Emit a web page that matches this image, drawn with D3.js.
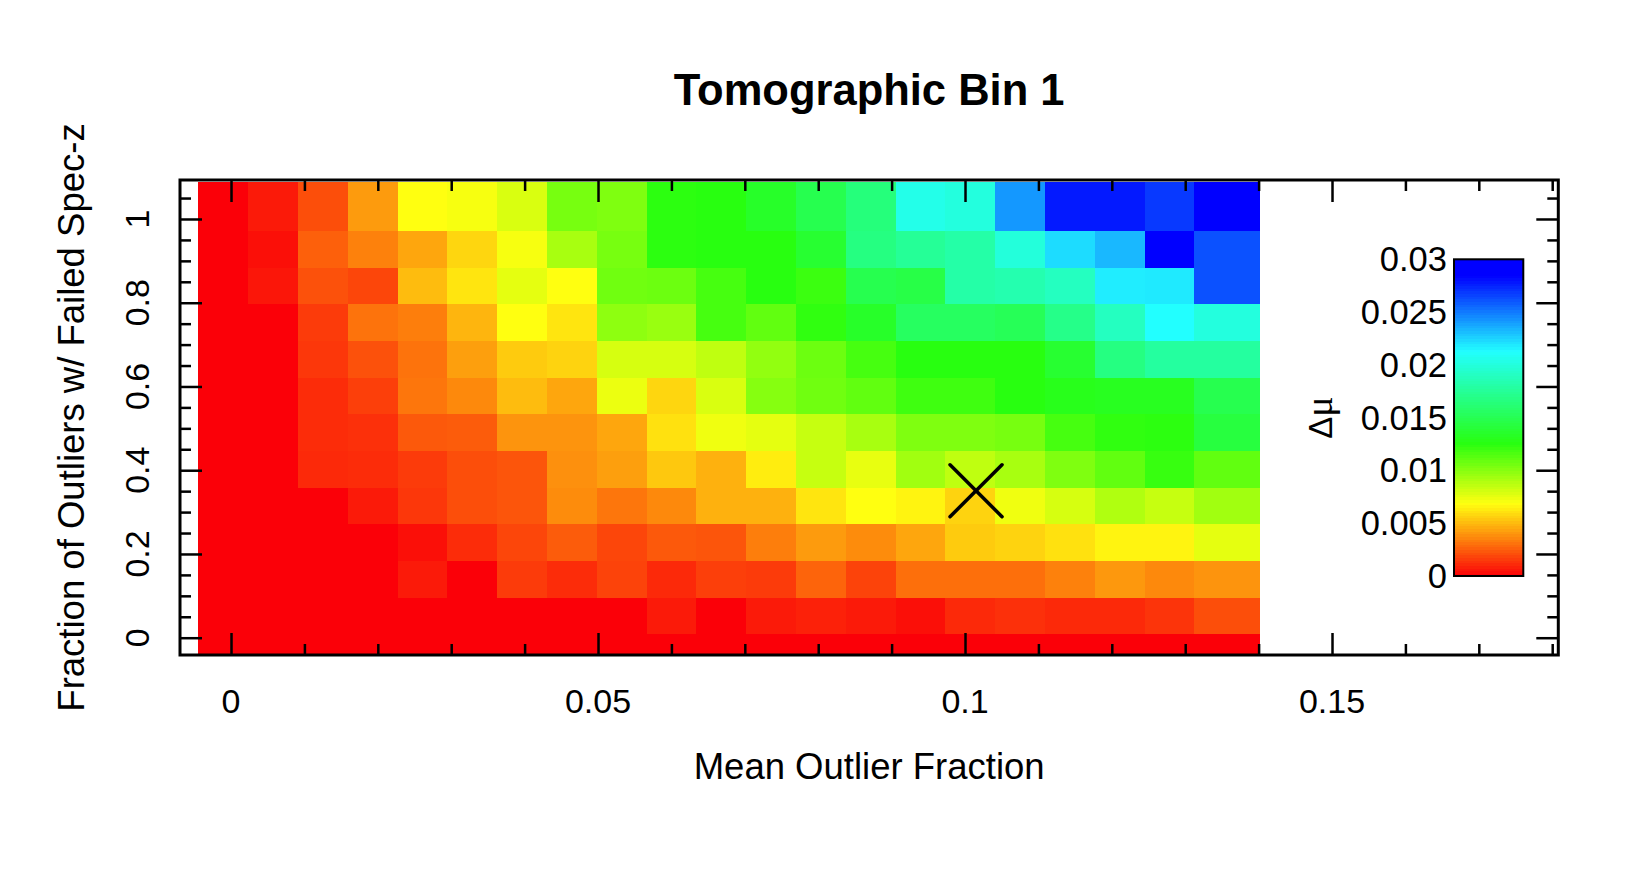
<!DOCTYPE html>
<html lang="en">
<head>
  <meta charset="utf-8">
  <title>Tomographic Bin 1</title>
  <script src="https://cdn.jsdelivr.net/npm/d3@7"></script>
  <style>
    body { margin: 0; background: #fff; }
    text { font-family: "Liberation Sans", Arial, Helvetica, sans-serif; fill: #000; }
  </style>
</head>
<body>
<script>
  // bin edges (data units)
  const xEdges = [-0.00445, 0.00234, 0.00912, 0.01591, 0.02269, 0.02948, 0.03626, 0.04305,
    0.04983, 0.05662, 0.06340, 0.07019, 0.07697, 0.08376, 0.09054, 0.09733, 0.10411,
    0.11090, 0.11768, 0.12447, 0.13125, 0.14019];
  const yEdges = [-0.0413, 0.0081, 0.0957, 0.1833, 0.2709, 0.3584, 0.4460, 0.5336,
    0.6212, 0.7088, 0.7963, 0.8839, 0.9715, 1.089];

  // delta mu per cell, one row per y bin, lowest row first
  const deltaMu = [
    [0, 0, 0, 0, 0, 0, 0, 0, 0, 0, 0, 0, 0, 0, 0, 0, 0, 0, 0, 0, 0],
    [0, 0, 0, 0, 0, 0, 0, 0, 0, 0.0007, 0, 0.0007, 0.0009, 0.0007, 0.0004, 0.0011, 0.0013, 0.0011, 0.0011, 0.0014, 0.0021],
    [0, 0, 0, 0, 0.0007, 0, 0.0016, 0.0012, 0.0018, 0.0011, 0.0017, 0.0016, 0.0027, 0.0018, 0.0030, 0.0030, 0.0030, 0.0035, 0.0041, 0.0037, 0.0040],
    [0, 0, 0, 0, 0.0004, 0.0012, 0.0019, 0.0025, 0.0019, 0.0024, 0.0023, 0.0034, 0.0042, 0.0038, 0.0045, 0.0055, 0.0057, 0.0061, 0.0066, 0.0066, 0.0076],
    [0, 0, 0, 0.0007, 0.0015, 0.0021, 0.0023, 0.0038, 0.0032, 0.0037, 0.0048, 0.0048, 0.0062, 0.0069, 0.0066, 0.0057, 0.0073, 0.0080, 0.0090, 0.0084, 0.0094],
    [0, 0, 0.0011, 0.0012, 0.0016, 0.0021, 0.0023, 0.0039, 0.0043, 0.0054, 0.0048, 0.0064, 0.0084, 0.0075, 0.0094, 0.0086, 0.0092, 0.0103, 0.0111, 0.0122, 0.0111],
    [0, 0, 0.0012, 0.0013, 0.0024, 0.0025, 0.0040, 0.0040, 0.0045, 0.0061, 0.0073, 0.0076, 0.0084, 0.0092, 0.0103, 0.0103, 0.0105, 0.0118, 0.0124, 0.0125, 0.0143],
    [0, 0, 0.0012, 0.0017, 0.0032, 0.0037, 0.0051, 0.0045, 0.0074, 0.0058, 0.0079, 0.0101, 0.0107, 0.0111, 0.0120, 0.0120, 0.0126, 0.0130, 0.0132, 0.0132, 0.0149],
    [0, 0, 0.0015, 0.0022, 0.0031, 0.0043, 0.0055, 0.0057, 0.0080, 0.0080, 0.0086, 0.0098, 0.0108, 0.0118, 0.0126, 0.0126, 0.0126, 0.0138, 0.0167, 0.0178, 0.0178],
    [0, 0, 0.0016, 0.0031, 0.0034, 0.0049, 0.0069, 0.0062, 0.0099, 0.0096, 0.0118, 0.0111, 0.0124, 0.0135, 0.0155, 0.0155, 0.0152, 0.0170, 0.0190, 0.0213, 0.0201],
    [0, 0.0006, 0.0022, 0.0019, 0.0051, 0.0062, 0.0076, 0.0069, 0.0107, 0.0108, 0.0118, 0.0126, 0.0121, 0.0149, 0.0146, 0.0181, 0.0184, 0.0190, 0.0218, 0.0219, 0.0262],
    [0, 0.0004, 0.0026, 0.0035, 0.0045, 0.0058, 0.0071, 0.0092, 0.0105, 0.0125, 0.0126, 0.0126, 0.0138, 0.0167, 0.0175, 0.0181, 0.0200, 0.0223, 0.0233, 0.0290, 0.0262],
    [0, 0.0007, 0.0021, 0.0042, 0.0069, 0.0071, 0.0079, 0.0105, 0.0103, 0.0125, 0.0126, 0.0135, 0.0149, 0.0165, 0.0205, 0.0201, 0.0242, 0.0278, 0.0278, 0.0269, 0.0290]
  ];

  const xTicks = [0, 0.05, 0.1, 0.15];
  const xTickLabels = ["0", "0.05", "0.1", "0.15"];
  const yTicks = [0, 0.2, 0.4, 0.6, 0.8, 1];
  const yTickLabels = ["0", "0.2", "0.4", "0.6", "0.8", "1"];
  const zTicks = [0, 0.005, 0.01, 0.015, 0.02, 0.025, 0.03];
  const zTickLabels = ["0", "0.005", "0.01", "0.015", "0.02", "0.025", "0.03"];

  // the cross marks the fiducial point
  const marker = [0.1015, 0.351];

  // palette: position along the colour bar -> colour
  const paletteStops = [0, 0.23, 0.42, 0.71, 0.95, 1];
  const paletteColors = ["#fb0008", "#ffff10", "#28ff10", "#22ffff", "#0000ff", "#0000ff"];

  const W = 1650, H = 880;
  const plotLeft = 180, plotRight = 1558.3, plotTop = 180, plotBottom = 655;
  const zMax = 0.03;

  const svg = d3.select("body").append("svg")
    .attr("width", W).attr("height", H);

  const x = d3.scaleLinear().domain([-0.00695, 0.18083]).range([plotLeft, plotRight]);
  const y = d3.scaleLinear().domain([-0.0413, 1.0931]).range([plotBottom, plotTop]);
  const color = d3.scaleLinear()
    .domain(paletteStops.map(s => s * zMax))
    .range(paletteColors)
    .interpolate(d3.interpolateRgb)
    .clamp(true);

  // cells
  const cells = [];
  deltaMu.forEach((row, i) => {
    row.forEach((v, j) => cells.push({ i, j, v }));
  });
  svg.append("g")
    .attr("shape-rendering", "crispEdges")
    .selectAll("rect")
    .data(cells)
    .enter()
    .append("rect")
    .attr("x", d => x(xEdges[d.j]))
    .attr("y", d => y(yEdges[d.i + 1]))
    .attr("width", d => x(xEdges[d.j + 1]) - x(xEdges[d.j]))
    .attr("height", d => y(yEdges[d.i]) - y(yEdges[d.i + 1]))
    .attr("fill", d => color(d.v));

  // ticks on all four sides, pointing in
  const xMinor = d3.range(0, 0.1805, 0.01).filter(v => !xTicks.some(t => Math.abs(t - v) < 1e-6));
  const yMinor = d3.range(0, 1.06, 0.05).filter(v => !yTicks.some(t => Math.abs(t - v) < 1e-6));

  function tickAxis(axisFn, scale, values, size, tx, ty) {
    const g = svg.append("g")
      .attr("transform", `translate(${tx},${ty})`)
      .call(axisFn(scale).tickValues(values).tickSize(-size).tickSizeOuter(0).tickFormat(""));
    g.select(".domain").remove();
    g.selectAll(".tick line").attr("stroke", "#000").attr("stroke-width", 2.5);
  }
  tickAxis(d3.axisBottom, x, xTicks, 22, 0, plotBottom);
  tickAxis(d3.axisBottom, x, xMinor, 11, 0, plotBottom);
  tickAxis(d3.axisTop, x, xTicks, 22, 0, plotTop);
  tickAxis(d3.axisTop, x, xMinor, 11, 0, plotTop);
  tickAxis(d3.axisLeft, y, yTicks, 22, plotLeft, 0);
  tickAxis(d3.axisLeft, y, yMinor, 11, plotLeft, 0);
  tickAxis(d3.axisRight, y, yTicks, 22, plotRight, 0);
  tickAxis(d3.axisRight, y, yMinor, 11, plotRight, 0);

  // frame
  svg.append("rect")
    .attr("x", plotLeft).attr("y", plotTop)
    .attr("width", plotRight - plotLeft).attr("height", plotBottom - plotTop)
    .attr("fill", "none").attr("stroke", "#000").attr("stroke-width", 3);

  // tick labels
  svg.append("g").selectAll("text")
    .data(xTicks)
    .enter().append("text")
    .attr("x", d => x(d))
    .attr("y", 713)
    .attr("text-anchor", "middle")
    .attr("font-size", 34)
    .text((d, i) => xTickLabels[i]);

  svg.append("g").selectAll("text")
    .data(yTicks)
    .enter().append("text")
    .attr("transform", d => `translate(148.5,${y(d)}) rotate(-90)`)
    .attr("text-anchor", "middle")
    .attr("font-size", 34)
    .text((d, i) => yTickLabels[i]);

  // titles
  svg.append("text")
    .attr("x", (plotLeft + plotRight) / 2).attr("y", 105)
    .attr("text-anchor", "middle")
    .attr("font-size", 43.5).attr("font-weight", "bold")
    .text("Tomographic Bin 1");

  svg.append("text")
    .attr("x", (plotLeft + plotRight) / 2).attr("y", 779)
    .attr("text-anchor", "middle")
    .attr("font-size", 36.5)
    .text("Mean Outlier Fraction");

  svg.append("text")
    .attr("transform", `translate(83.5,${(plotTop + plotBottom) / 2}) rotate(-90)`)
    .attr("text-anchor", "middle")
    .attr("font-size", 36.5)
    .text("Fraction of Outliers w/ Failed Spec-z");

  // cross marker
  const mx = x(marker[0]), my = y(marker[1]), arm = 26;
  svg.append("g")
    .attr("stroke", "#000").attr("stroke-width", 3.5).attr("stroke-linecap", "round")
    .selectAll("line")
    .data([[-1, -1, 1, 1], [-1, 1, 1, -1]])
    .enter().append("line")
    .attr("x1", d => mx + d[0] * arm).attr("y1", d => my + d[1] * arm)
    .attr("x2", d => mx + d[2] * arm).attr("y2", d => my + d[3] * arm);

  // colour bar
  const cbLeft = 1454, cbRight = 1523.3;
  const cb = d3.scaleLinear().domain([0, zMax]).range([576, 259.3]);
  const nBands = 120;
  svg.append("g")
    .attr("shape-rendering", "crispEdges")
    .selectAll("rect")
    .data(d3.range(nBands))
    .enter().append("rect")
    .attr("x", cbLeft)
    .attr("width", cbRight - cbLeft)
    .attr("y", k => cb((k + 1) * zMax / nBands))
    .attr("height", k => cb(k * zMax / nBands) - cb((k + 1) * zMax / nBands) + 0.5)
    .attr("fill", k => color((k + 0.5) * zMax / nBands));

  svg.append("rect")
    .attr("x", cbLeft).attr("y", cb(zMax))
    .attr("width", cbRight - cbLeft).attr("height", cb(0) - cb(zMax))
    .attr("fill", "none").attr("stroke", "#000").attr("stroke-width", 2);

  svg.append("g").selectAll("text")
    .data(zTicks)
    .enter().append("text")
    .attr("x", 1447)
    .attr("y", d => cb(d) + 12)
    .attr("text-anchor", "end")
    .attr("font-size", 34.5)
    .text((d, i) => zTickLabels[i]);

  // colour bar title
  const zt = svg.append("text")
    .attr("transform", `translate(1331.5,${(cb(0) + cb(zMax)) / 2}) rotate(-90)`)
    .attr("text-anchor", "middle")
    .attr("font-size", 33);
  zt.append("tspan").text("Δ");
  zt.append("tspan").style("font-family", "'Liberation Serif', 'DejaVu Serif', serif").attr("font-size", 38).text("μ");
</script>
</body>
</html>
